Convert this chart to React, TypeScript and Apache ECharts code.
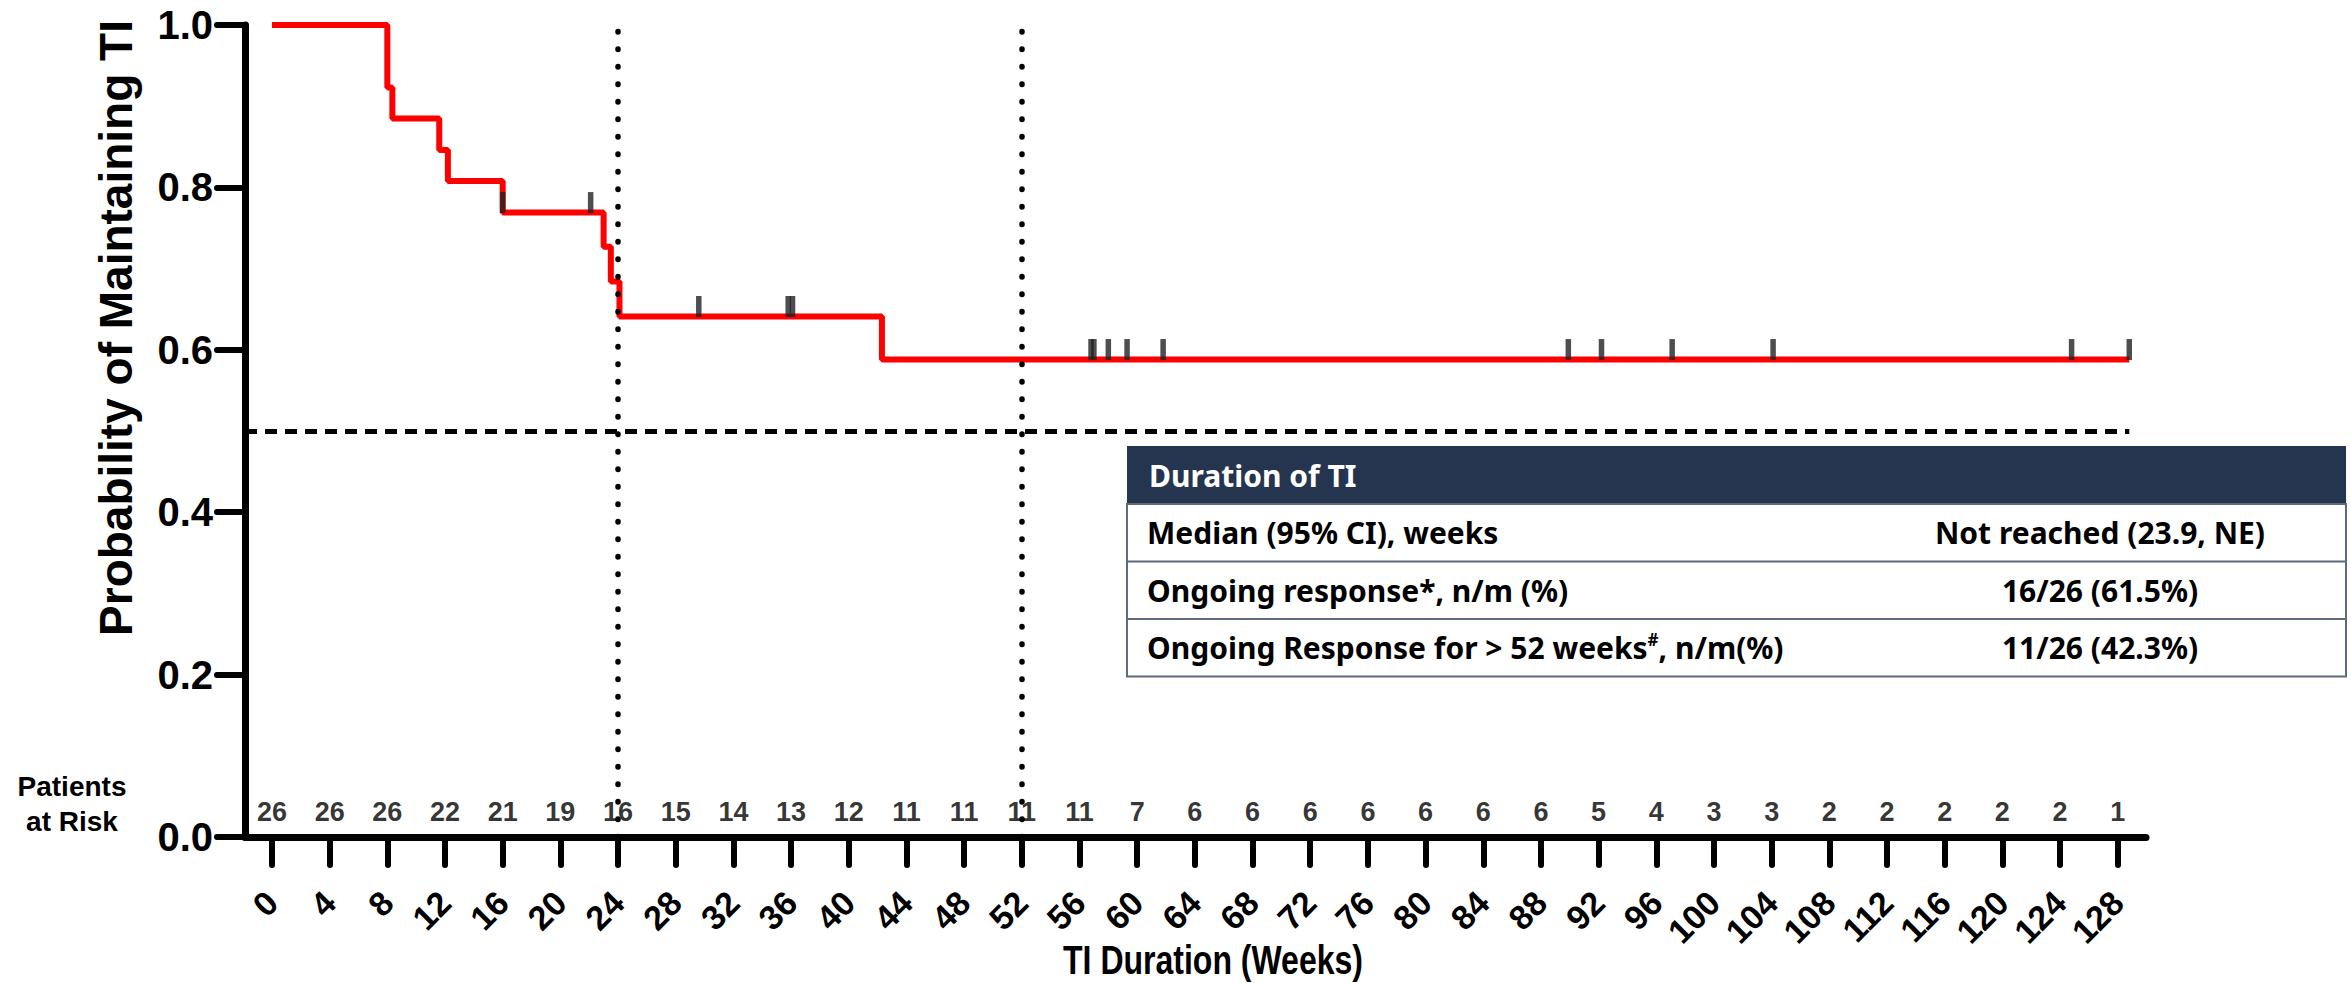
import React, { useEffect, useRef } from "react";
import * as echarts from "echarts";

// ---- data ----
const weekTicks = [0, 4, 8, 12, 16, 20, 24, 28, 32, 36, 40, 44, 48, 52, 56, 60, 64, 68, 72, 76, 80, 84, 88, 92, 96, 100, 104, 108, 112, 116, 120, 124, 128];
const atRisk = [26, 26, 26, 22, 21, 19, 16, 15, 14, 13, 12, 11, 11, 11, 11, 7, 6, 6, 6, 6, 6, 6, 6, 5, 4, 3, 3, 2, 2, 2, 2, 2, 1];
const kmWeeks = [0, 8.0, 8.35, 11.6, 12.2, 16.0, 23.0, 23.5, 24.1, 42.3, 128.8];
const kmSurvival = [1.0, 0.923, 0.885, 0.846, 0.808, 0.769, 0.727, 0.684, 0.641, 0.588, 0.588];
const censorWeeks = [16.0, 22.1, 29.6, 35.8, 36.1, 56.8, 57.0, 58.0, 59.3, 61.8, 89.9, 92.2, 97.1, 104.1, 124.8, 128.8];
const censorSurvival = [0.769, 0.769, 0.641, 0.641, 0.641, 0.588, 0.588, 0.588, 0.588, 0.588, 0.588, 0.588, 0.588, 0.588, 0.588, 0.588];
const referenceWeeks = [24, 52];
const medianLevel = 0.5;
const medianLineEnd = 128.8;

const yTitle = "Probability of Maintaining TI";
const xTitle = "TI Duration (Weeks)";
const riskTitle = ["Patients", "at Risk"];

const tableHeader = "Duration of TI";
const tableLabels = [
  "Median (95% CI), weeks",
  "Ongoing response*, n/m (%)",
  "Ongoing Response for > 52 weeks{sup|#}, n/m(%)",
];
const tableValues = ["Not reached (23.9, NE)", "16/26 (61.5%)", "11/26 (42.3%)"];

const AXIS_FONT = "'Liberation Sans', Arial, Helvetica, sans-serif";
const TABLE_FONT = "'Noto Sans', 'Open Sans', sans-serif";

export default function App() {
  const ref = useRef<HTMLDivElement>(null);

  useEffect(() => {
    if (!ref.current) return;
    const chart = echarts.init(ref.current, null, { renderer: "svg" });

    const kmData = kmWeeks.map((w, i) => [w, kmSurvival[i]]);
    const censorData = censorWeeks.map((w, i) => [w, censorSurvival[i]]);
    const riskData = weekTicks.map((w, i) => [w, 0, atRisk[i]]);

    // table geometry
    const tX = 1127, tY = 446, tW = 1219, hH = 58, rH = 57.5;
    const tableGraphics: any[] = [
      { type: "rect", shape: { x: tX, y: tY, width: tW, height: hH }, style: { fill: "#26354f" }, z: 10 },
      {
        type: "rect",
        shape: { x: tX, y: tY + hH, width: tW, height: rH * 3 },
        style: { fill: "#ffffff", stroke: "#5d6b7d", lineWidth: 2 },
        z: 10,
      },
      {
        type: "text",
        x: tX + 22,
        y: tY + hH / 2,
        style: { text: tableHeader, fill: "#ffffff", font: `bold 30px ${TABLE_FONT}`, textVerticalAlign: "middle" },
        z: 11,
      },
    ];
    for (let i = 0; i < 3; i++) {
      const cy = tY + hH + rH * i + rH / 2;
      if (i > 0) {
        tableGraphics.push({
          type: "line",
          shape: { x1: tX, y1: tY + hH + rH * i, x2: tX + tW, y2: tY + hH + rH * i },
          style: { stroke: "#5d6b7d", lineWidth: 2 },
          z: 11,
        });
      }
      tableGraphics.push({
        type: "text",
        x: tX + 20,
        y: cy,
        style: {
          text: tableLabels[i],
          fill: "#000",
          font: `bold 30px ${TABLE_FONT}`,
          textVerticalAlign: "middle",
          rich: {
            sup: { fontSize: 17, fontWeight: "bold", fontFamily: TABLE_FONT, verticalAlign: "top", lineHeight: 34 },
          },
        },
        z: 11,
      });
      tableGraphics.push({
        type: "text",
        x: 2100,
        y: cy,
        style: {
          text: tableValues[i],
          fill: "#000",
          font: `bold 30px ${TABLE_FONT}`,
          textAlign: "center",
          textVerticalAlign: "middle",
        },
        z: 11,
      });
    }

    const option: any = {
      animation: false,
      backgroundColor: "#ffffff",
      grid: { left: 245, right: 205, top: 25, bottom: 146, containLabel: false },
      xAxis: {
        type: "value",
        min: -1.87,
        max: 129.96,
        splitLine: { show: false },
        axisLine: { show: true, onZero: false, lineStyle: { color: "#000", width: 7, cap: "round" } },
        axisTick: { show: true, length: 28, customValues: weekTicks, lineStyle: { color: "#000", width: 6, cap: "round" } },
        axisLabel: {
          show: true,
          customValues: weekTicks,
          rotate: 45,
          margin: 60,
          color: "#000",
          fontSize: 34,
          fontWeight: "bold",
          fontFamily: AXIS_FONT,
        },
      },
      yAxis: {
        type: "value",
        min: 0,
        max: 1,
        interval: 0.2,
        splitLine: { show: false },
        axisLine: { show: true, onZero: false, lineStyle: { color: "#000", width: 7, cap: "round" } },
        axisTick: { show: true, length: 28, lineStyle: { color: "#000", width: 6, cap: "round" } },
        axisLabel: {
          margin: 32,
          color: "#000",
          fontSize: 40,
          fontWeight: "bold",
          fontFamily: AXIS_FONT,
          formatter: (v: number) => v.toFixed(1),
        },
      },
      series: [
        {
          type: "line",
          name: "KM",
          data: kmData,
          step: "end",
          showSymbol: false,
          symbol: "none",
          lineStyle: { color: "#ff0000", width: 6 },
          z: 4,
          silent: true,
          markLine: {
            silent: true,
            symbol: ["none", "none"],
            label: { show: false },
            data: [
              ...referenceWeeks.map((w) => ({
                xAxis: w,
                lineStyle: { type: [0.5, 17], cap: "round", width: 5.5, color: "#000" },
              })),
              [
                { coord: [-1.87, medianLevel], lineStyle: { type: [12, 8], width: 5, color: "#000" } },
                { coord: [medianLineEnd, medianLevel] },
              ],
            ],
          },
        },
        {
          type: "scatter",
          name: "Censored",
          data: censorData,
          symbol: "rect",
          symbolSize: [5.5, 21],
          symbolOffset: [0, -10],
          itemStyle: { color: "#222222" },
          z: 5,
          silent: true,
        },
        {
          type: "scatter",
          name: "At risk",
          data: riskData,
          symbolSize: 2,
          itemStyle: { color: "rgba(0,0,0,0)" },
          clip: false,
          silent: true,
          label: {
            show: true,
            position: "top",
            distance: 11,
            formatter: (p: any) => String(p.data[2]),
            color: "#000",
            fontSize: 27,
            fontWeight: "bold",
            fontFamily: AXIS_FONT,
          },
          labelLayout: { hideOverlap: false },
          z: 6,
        },
      ],
      graphic: [
        {
          type: "text",
          x: 116,
          y: 328,
          rotation: Math.PI / 2,
          style: {
            text: yTitle,
            fill: "#000",
            font: `bold 46px ${AXIS_FONT}`,
            textAlign: "center",
            textVerticalAlign: "middle",
          },
        },
        {
          type: "text",
          x: 1213,
          y: 960,
          scaleX: 0.8,
          style: {
            text: xTitle,
            fill: "#000",
            font: `bold 40px ${AXIS_FONT}`,
            textAlign: "center",
            textVerticalAlign: "middle",
          },
        },
        ...riskTitle.map((t, i) => ({
          type: "text",
          x: 72,
          y: 786 + i * 35,
          style: {
            text: t,
            fill: "#000",
            font: `bold 28px ${AXIS_FONT}`,
            textAlign: "center",
            textVerticalAlign: "middle",
          },
        })),
        ...tableGraphics,
      ],
    };

    chart.setOption(option);
    return () => chart.dispose();
  }, []);

  return (
    <div
      ref={ref}
      style={{ position: "absolute", left: 0, top: 0, width: 2351, height: 983, background: "#fff" }}
    />
  );
}
